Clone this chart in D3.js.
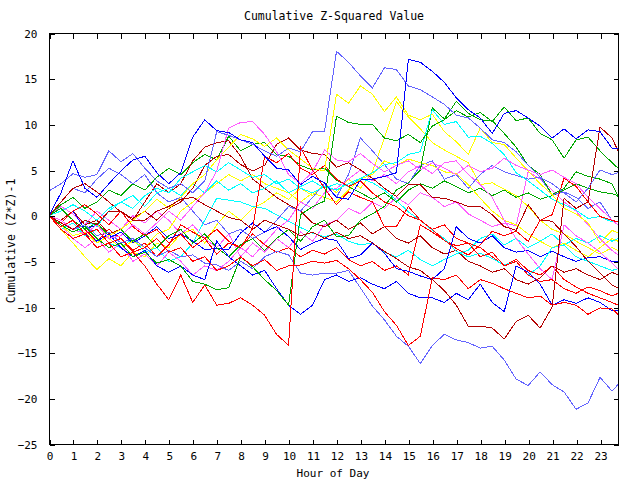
<!DOCTYPE html>
<html><head><meta charset="utf-8">
<script src="https://cdn.jsdelivr.net/npm/d3@7/dist/d3.min.js"></script>
<style>
body{margin:0;background:#fff;}
text{font-family:"DejaVu Sans Mono","Liberation Mono",monospace;font-size:11.5px;fill:#000;}
</style></head>
<body><svg id="c" width="640" height="480"></svg>
<script>
const title = "Cumulative Z-Squared Value";
const xTitle = "Hour of Day";
const yTitle = "Cumulative (Z*Z)-1";
const xTicks = d3.range(0, 24);
const yTicks = [20,15,10,5,0,-5,-10,-15,-20,-25];
const hours = d3.range(0, 24, 0.5).concat([23.75]);

const B1 = [0,2.5, 6.0,3.0, 2.0,3.5, 4.9,6.1, 6.5,4.7, 3.5,4.7, 8.6,10.5, 9.3,9.1, 8.3,8.0, 6.5,5.2, 5.0,3.4, 4.3,3.6, 2.0,1.8, 3.9,4.0, 4.3,4.7, 17.1,16.8, 15.8,14.6, 12.9,11.6, 10.7,9.0, 11.2,11.5, 10.7,9.8, 8.5,9.5, 8.4,9.4, 9.2,7.4, 7.4];
const B2 = [0,-0.8, 0.5,-1.5, -1.0,-2.5, -1.8,-3.0, -2.2,-1.2, -2.5,-2.0, -2.8,-3.7, -3.6,-3.7, -1.9,-0.8, -1.8,-1.2, -2.3,-3.7, -3.0,-2.5, -2.7,-4.7, -4.3,-3.0, -4.1,-5.8, -6.1,-6.6, -7.0,-5.8, -1.2,-2.5, -3.0,-2.2, -3.5,-4.0, -3.8,-4.5, -3.9,-4.5, -5.0,-4.6, -4.5,-5.0, -5.0];
const B3 = [0,-1.2, -0.5,-2.0, -2.8,-2.0, -3.5,-4.5, -3.8,-5.5, -6.2,-5.5, -6.5,-7.0, -2.8,-4.5, -5.5,-6.5, -6.0,-8.0, -9.8,-10.8, -9.8,-7.0, -6.5,-7.2, -6.8,-7.5, -8.0,-7.2, -8.5,-9.0, -9.0,-9.5, -8.5,-9.2, -7.5,-9.5, -10.5,-5.5, -6.2,-7.5, -9.8,-9.2, -9.6,-9.0, -9.5,-10.4, -10.4];
const LB1 = [2.7,3.5, 4.6,4.2, 4.5,7.1, 5.9,6.8, 5.2,3.8, 3.0,3.5, 2.5,3.8, 9.2,8.8, 8.3,7.8, 7.1,6.5, 7.4,7.0, 9.2,9.2, 18.0,16.8, 15.3,14.0, 16.2,16.0, 14.2,13.8, 13.0,12.2, 11.0,10.7, 9.6,8.3, 8.0,7.0, 5.5,4.2, 3.5,2.5, 1.5,3.0, 5.0,4.5, 4.7];
const LB2 = [0,-0.5, -1.5,-1.0, -2.2,-1.8, -3.0,-2.5, -3.5,-4.5, -3.8,-4.5, -4.3,-5.2, -5.4,-6.0, -5.0,-5.8, -4.5,-3.9, -4.3,-6.3, -6.5,-6.3, -6.3,-6.0, -7.9,-9.9, -11.4,-13.2, -14.3,-16.2, -14.2,-13.0, -13.6,-13.9, -14.5,-14.3, -15.8,-17.9, -18.6,-17.1, -18.5,-19.3, -21.2,-20.5, -17.7,-19.2, -18.5];
const LB3 = [0,1.5, 3.0,2.5, 4.0,5.2, 4.5,3.5, 4.5,2.5, 1.5,2.0, 0.5,-1.0, -0.5,-2.0, -1.5,-2.5, -1.8,-0.5, 1.0,0.5, 2.0,3.5, 2.0,4.5, 8.5,7.1, 5.6,4.0, 3.5,5.5, 6.0,4.0, 4.5,3.0, 4.5,5.5, 4.8,4.4, 4.0,4.2, 2.3,2.6, 2.0,0.8, 1.5,-0.5, -1.0];
const R1 = [0,-1.5, -2.5,-2.0, -3.5,-3.0, -4.5,-4.0, -5.5,-7.5, -9.2,-6.5, -9.5,-7.6, -9.8,-9.6, -9.0,-9.8, -10.9,-13.0, -14.2,7.5, 5.0,3.0, 1.2,2.6, 2.0,1.5, -1.2,-1.2, 1.0,-0.5, -1.5,-2.7, -3.6,-4.3, -3.2,-1.7, -2.2,-1.7, -2.8,-0.5, 0.1,4.1, 3.2,1.5, -0.1,-0.5, -0.7];
const R2 = [0,-1.2, -0.5,-2.0, -1.5,-3.0, -2.5,-4.0, -3.5,-2.5, -4.0,-3.5, -5.0,-4.5, -6.0,-5.5, -4.5,-5.5, -4.8,-6.0, -5.5,-5.4, -5.0,-5.2, -4.9,-5.8, -7.0,-8.4, -10.5,-12.0, -14.2,-13.2, -6.8,-7.0, -6.5,-8.0, -7.0,-7.4, -8.0,-8.5, -9.0,-8.8, -9.8,-9.5, -9.8,-10.8, -10.1,-10.2, -10.8];
const R3 = [0,0.8, -0.5,-1.5, -2.8,-1.5, -2.5,-3.8, -3.0,-4.5, -3.2,-1.0, -1.8,-2.5, -1.5,-2.8, -3.5,-2.0, -3.2,-4.0, -3.5,-4.5, -3.8,-4.2, -3.5,-4.8, -5.5,-5.0, -6.0,-5.5, -6.5,-1.0, -1.8,-2.7, -3.3,-3.0, -3.5,-4.5, -5.5,-4.8, -6.0,-6.5, -5.5,-7.0, -7.8,-8.5, -9.0,-9.5, -9.8];
const R4 = [0,-0.8, 0.5,1.2, 0.2,-1.0, 0.5,-1.2, -2.2,-1.5, -3.0,-2.0, -3.5,-2.5, -4.2,-3.0, -3.5,-1.4, 6.5,5.8, 6.8,5.2, 4.5,5.5, 4.0,3.2, 3.8,2.5, 1.5,1.0, 0.0,-0.5, -1.5,-1.0, -2.5,-3.0, -4.5,-4.0, -5.5,-5.0, -6.5,-7.2, -7.0,-8.0, -8.5,-7.8, -8.2,-8.8, -8.5];
const DR1 = [0,-0.8, -1.5,-0.5, -1.0,0.5, 0.5,-0.5, -0.5,0.5, 1.0,1.8, 2.0,1.2, 0.5,-0.2, -0.5,-1.5, -0.5,-1.0, -1.5,-2.2, -1.8,-2.5, -1.8,-2.5, -2.2,-3.0, -3.9,-4.7, -5.6,-6.0, -7.0,-8.2, -9.8,-12.1, -12.1,-12.3, -13.5,-11.6, -10.9,-12.3, -10.0,1.9, 0.8,1.5, 9.7,8.5, 7.1];
const DR2 = [0,1.5, 3.0,3.5, 2.6,1.5, 0.4,-0.3, 0.5,-0.5, 0.8,1.5, 3.0,5.5, 6.5,6.7, 5.6,4.9, 5.5,7.8, 8.5,7.2, 6.8,6.7, 5.3,5.8, 5.0,4.1, 3.0,2.1, 3.4,3.4, 2.0,1.9, 1.5,1.0, 1.0,0.1, -1.2,-1.6, 1.2,-0.5, -0.6,-2.0, -3.4,-5.0, -6.3,-7.6, -7.9];
const DR3 = [0,-0.5, 0.5,-1.0, -0.5,-2.0, -1.5,-0.5, 1.5,3.5, 2.5,3.5, 6.0,7.5, 8.0,8.2, 6.5,4.0, 3.0,2.0, 1.2,0.5, -0.8,-1.2, -0.5,-1.5, -0.8,-2.0, -1.2,-2.5, -3.0,-2.2, -3.5,-4.2, -3.8,-5.0, -5.5,-6.2, -5.8,-7.0, -7.5,-6.8, -5.5,-6.2, -5.8,-6.5, -7.0,-6.2, -6.5];
const G1 = [0,-1.0, -1.8,-1.2, -2.5,-3.5, -3.0,-4.5, -4.0,-5.2, -4.8,-5.5, -7.2,-7.5, -8.1,-7.9, -4.5,-5.6, -7.0,-8.2, -9.8,0.1, 1.0,1.6, 10.9,10.2, 10.0,10.0, 8.5,8.2, 8.9,8.0, 9.8,10.5, 11.5,10.8, 11.3,10.3, 11.9,10.4, 10.7,9.0, 8.3,6.3, 8.3,8.6, 7.1,5.8, 5.2];
const G2 = [0,0.8, -0.5,-1.5, -0.8,-2.2, -1.5,-2.8, -2.0,-3.5, -2.2,-1.5, -3.0,-2.0, -3.5,-4.5, -3.2,-2.5, -3.8,-2.5, -1.5,-2.8, -1.2,-0.5, -2.3,-2.2, -0.5,0.2, 1.0,2.8, 3.6,5.0, 11.8,10.6, 12.5,11.2, 10.5,10.4, 9.0,7.5, 5.5,4.5, 2.3,3.0, 4.8,4.3, 4.0,3.5, 2.1];
const G3 = [0,1.2, 2.0,0.8, 1.5,2.8, 2.2,3.5, 2.8,4.2, 5.2,4.5, 5.8,6.7, 6.1,8.7, 7.1,7.8, 8.0,6.7, 6.5,5.5, 5.0,5.2, 3.9,3.2, 2.5,1.8, 2.5,1.5, 2.8,3.5, 3.0,3.8, 3.2,2.5, 3.0,2.2, 2.8,2.0, 2.5,1.8, 2.2,2.8, 3.5,3.0, 2.6,2.4, 2.2];
const Y1 = [0,-1.0, -2.2,-1.8, -3.0,-2.2, -1.5,-0.5, 0.5,1.8, 0.8,2.0, 3.5,4.5, 6.1,7.5, 8.9,8.4, 7.6,8.5, 7.2,6.2, 5.2,4.9, 13.3,12.3, 14.2,13.3, 11.4,13.0, 11.0,10.5, 11.1,9.2, 8.1,6.7, 9.6,8.0, 7.8,6.3, 4.9,3.5, 2.3,0.8, 0.2,-0.8, -3.0,-1.6, -1.9];
const Y2 = [0,-1.5, -3.0,-4.5, -5.9,-4.7, -5.5,-4.0, -4.5,-3.0, -3.5,-2.0, -1.5,-3.0, -1.0,0.5, -0.5,0.8, 1.5,2.5, 1.8,3.0, 2.2,3.5, 2.5,4.0, 3.0,4.8, 8.5,12.5, 10.8,9.5, 8.0,7.2, 6.5,5.8, 3.4,3.6, 2.9,2.2, 1.0,-0.5, -1.5,-2.0, -2.8,-3.5, -4.2,-3.5, -3.8];
const Y3 = [0,0.8, -0.5,-1.5, -0.8,-2.5, -3.5,-2.8, -3.5,-2.0, -1.5,0.5, 1.5,2.5, 3.5,4.5, 3.8,4.5, 3.5,3.0, 2.5,1.5, 2.5,2.0, 1.5,2.8, 4.0,4.5, 6.0,5.5, 6.2,5.8, 5.5,4.8, 4.6,3.4, 1.9,0.5, -0.5,-1.0, -2.0,-2.8, -3.5,-3.0, -3.8,-4.5, -3.5,-2.5, -2.8];
const C1 = [0,-0.8, -1.5,-0.5, -1.2,0.5, 1.5,0.8, 2.2,3.0, 2.5,4.1, 4.8,5.5, 4.8,5.8, 5.0,4.2, 4.5,3.5, 4.0,3.0, 2.5,3.2, 2.8,3.5, 4.1,4.7, 5.6,5.8, 6.7,7.0, 11.6,10.0, 10.3,8.6, 8.7,7.9, 6.7,4.7, 3.8,2.8, 1.8,1.2, 0.6,-0.3, -0.1,-0.7, -0.6];
const C2 = [0,-1.5, -0.8,-2.2, -1.5,-3.0, -3.5,-2.5, -4.0,-3.5, -5.0,-4.5, -3.0,-0.5, 1.9,1.7, 1.5,1.0, 0.8,0.1, -0.6,-1.3, -1.9,-2.3, -2.0,-2.8, -3.2,-3.0, -4.0,-4.5, -3.8,-4.8, -5.5,-4.8, -4.2,-3.8, -2.5,-2.0, -3.2,-2.5, -3.5,-2.8, -2.0,-3.2, -2.5,-3.0, -2.2,-2.8, -2.5];
const C3 = [0,0.5, 1.2,0.5, -0.5,0.8, 1.5,2.2, 1.0,2.5, 3.0,2.2, 3.5,2.5, 3.8,2.8, 3.5,2.5, 3.0,3.8, 2.5,3.2, 3.8,3.0, 3.5,3.2, 4.1,3.6, 2.8,1.7, 0.4,-0.5, -1.6,-2.5, -3.9,-4.5, -4.1,-4.7, -5.4,-5.0, -6.5,-5.5, -3.5,-3.2, -4.5,-5.0, -5.5,-6.0, -5.8];
const M1 = [0,-0.5, -1.5,-2.0, -1.0,-2.5, -2.2,-1.0, -2.0,-0.8, 0.5,-0.5, 1.0,2.5, 4.9,9.6, 10.2,10.3, 8.9,7.0, 4.5,3.5, 4.8,7.2, 6.1,5.9, 6.8,5.7, 4.8,5.5, 6.0,5.0, 5.8,5.2, 4.5,5.5, 4.8,5.2, 6.3,5.5, 5.0,4.5, 5.0,4.2, 3.5,2.0, 0.8,-0.5, -1.0];
const M2 = [0,-1.0, -2.5,-3.5, -2.5,-4.0, -3.0,-5.0, -4.2,-5.5, -4.0,-5.0, -6.5,-5.5, -6.0,-5.0, -3.5,-4.5, -3.0,-1.5, -0.5,1.5, 0.8,2.5, 3.0,4.0, 5.0,3.8, 4.5,3.5, 4.8,5.5, 4.6,5.8, 6.0,4.5, 3.4,2.0, -0.5,-2.5, -4.2,-5.8, -7.0,-1.0, -2.2,-3.0, -4.0,-5.2, -5.8];
const M3 = [0,1.0, 0.2,-1.0, 0.5,-0.5, -1.5,0.0, -0.8,0.5, -0.5,-2.0, -1.0,-2.5, -3.5,-2.0, -4.5,-3.0, -4.0,-2.5, -3.5,-1.8, -2.8,-1.0, -0.5,0.8, 0.2,1.5, 0.8,2.0, 1.2,2.5, 2.0,1.0, 1.5,0.2, -0.5,-1.2, -0.8,-1.1, 4.8,4.0, 2.8,1.5, 0.5,-1.0, -2.5,-3.8, -4.3];

const seriesColors = {blue:"#0000ff", lightblue:"#6464ff", red:"#ff0000", darkred:"#b40000", green:"#00a800", yellow:"#ffff00", cyan:"#00ffff", magenta:"#ff5cff"};
const series = [
  [Y2,"yellow"],[C2,"cyan"],[M3,"magenta"],[G3,"green"],[R3,"red"],[DR3,"darkred"],[LB3,"lightblue"],[B2,"blue"],
  [Y3,"yellow"],[C3,"cyan"],[M2,"magenta"],[G2,"green"],[R4,"red"],[DR2,"darkred"],[LB2,"lightblue"],[B3,"blue"],
  [Y1,"yellow"],[C1,"cyan"],[M1,"magenta"],[G1,"green"],[R2,"red"],[R1,"red"],[DR1,"darkred"],[LB1,"lightblue"],[B1,"blue"]
];

const svg = d3.select("#c");
const L = 49, R = 618, T = 33, Bt = 444;
const x = d3.scaleLinear().domain([0, 23.75]).range([L, R]);
const y = d3.scaleLinear().domain([-25, 20]).range([Bt, T]);

const line = d3.line().x(d => x(d[0])).y(d => y(d[1]));
const g = svg.append("g");
series.forEach(([vals, col]) => {
  g.append("path")
    .datum(vals.map((v, i) => [hours[i], v]))
    .attr("d", line)
    .attr("fill", "none")
    .attr("stroke", seriesColors[col])
    .attr("stroke-width", 1)
    .attr("shape-rendering", "crispEdges");
});

svg.append("rect").attr("x", L + 0.5).attr("y", T + 0.5).attr("width", R - L).attr("height", Bt - T)
  .attr("fill", "none").attr("stroke", "#000").attr("stroke-width", 1);

const tl = 5;
const xAxisB = d3.axisBottom(x).tickValues(xTicks).tickSize(-tl).tickFormat(d3.format("d")).tickPadding(tl + 3);
const xAxisT = d3.axisTop(x).tickValues(xTicks).tickSize(-tl).tickFormat("");
const yAxisL = d3.axisLeft(y).tickValues(yTicks).tickSize(-tl).tickFormat(d3.format("d")).tickPadding(tl + 7);
const yAxisR = d3.axisRight(y).tickValues(yTicks).tickSize(-tl).tickFormat("");

function styleAxis(sel) {
  sel.select(".domain").remove();
  sel.selectAll("line").attr("stroke", "#000").attr("shape-rendering", "crispEdges");
  sel.selectAll("text").attr("fill", "#000").style("font-family", '"DejaVu Sans Mono",monospace').style("font-size", "11px");
}
svg.append("g").attr("transform", `translate(0.5,${Bt + 0.5})`).call(xAxisB).call(styleAxis);
svg.append("g").attr("transform", `translate(0.5,${T + 0.5})`).call(xAxisT).call(styleAxis);
svg.append("g").attr("transform", `translate(${L + 0.5},0.5)`).call(yAxisL).call(styleAxis);
svg.append("g").attr("transform", `translate(${R + 0.5},0.5)`).call(yAxisR).call(styleAxis);

svg.append("text").attr("x", 334).attr("y", 20).attr("text-anchor", "middle").text(title);
svg.append("text").attr("x", 333).attr("y", 477).attr("text-anchor", "middle").style("font-size", "11px").text(xTitle);
svg.append("text").attr("transform", "translate(15,241) rotate(-90)").attr("text-anchor", "middle").text(yTitle);
</script></body></html>
